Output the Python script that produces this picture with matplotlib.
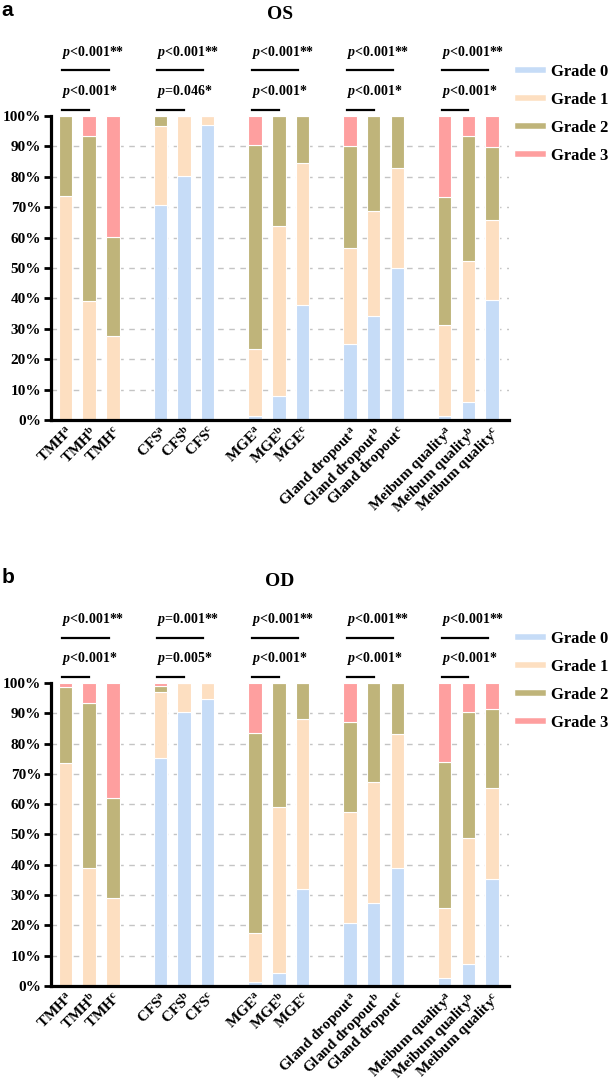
import matplotlib
matplotlib.use("Agg")
import matplotlib.pyplot as plt
from matplotlib.lines import Line2D
import numpy as np

plt.rcParams['font.family'] = 'Liberation Serif'
plt.rcParams['font.weight'] = 'bold'
plt.rcParams['mathtext.fontset'] = 'custom'
plt.rcParams['mathtext.rm'] = 'Liberation Serif'
plt.rcParams['mathtext.it'] = 'Liberation Serif:italic:bold'
plt.rcParams['mathtext.bf'] = 'Liberation Serif:bold'

# categories
groups = ["TMH", "CFS", "MGE", "Gland dropout", "Meibum quality"]
subs = ["a", "b", "c"]
grades = ["Grade 0", "Grade 1", "Grade 2", "Grade 3"]
colors = ["#c6dcf7", "#fddfc1", "#bfb47a", "#fe9f9f"]

# OS (panel a), % per grade, order: TMH a-c, CFS a-c, MGE a-c, Gland a-c, Meibum a-c
os_g0 = [0, 0, 0, 70.7, 80.4, 96.9, 1.3, 7.8, 37.7, 25.0, 34.3, 50.0, 1.3, 6.0, 39.6]
os_g1 = [73.8, 39.0, 27.5, 26.1, 19.6, 3.1, 22.0, 55.9, 46.9, 31.7, 34.5, 32.9, 30.0, 46.2, 26.1]
os_g2 = [26.2, 54.4, 32.8, 3.2, 0, 0, 67.0, 36.3, 15.4, 33.4, 31.2, 17.1, 42.0, 41.2, 24.1]
os_g3 = [0, 6.6, 39.7, 0, 0, 0, 9.7, 0, 0, 9.9, 0, 0, 26.7, 6.6, 10.2]

# OD (panel b)
od_g0 = [0, 0, 0, 75.4, 90.4, 94.8, 1.2, 4.2, 32.0, 20.8, 27.3, 39.1, 2.7, 7.3, 35.3]
od_g1 = [73.5, 39.0, 29.0, 21.6, 9.6, 5.2, 16.2, 54.9, 56.0, 36.7, 40.1, 44.0, 23.0, 41.6, 30.2]
od_g2 = [25.2, 54.5, 33.2, 1.9, 0, 0, 66.2, 40.9, 12.0, 29.6, 32.6, 16.9, 48.3, 41.5, 26.0]
od_g3 = [1.3, 6.5, 37.8, 1.1, 0, 0, 16.4, 0, 0, 12.9, 0, 0, 26.0, 9.6, 8.5]

# p values per group: (overall, pairwise)
os_p = [("<0.001**", "<0.001*"), ("<0.001**", "=0.046*"), ("<0.001**", "<0.001*"),
        ("<0.001**", "<0.001*"), ("<0.001**", "<0.001*")]
od_p = [("<0.001**", "<0.001*"), ("=0.001**", "=0.005*"), ("<0.001**", "<0.001*"),
        ("<0.001**", "<0.001*"), ("<0.001**", "<0.001*")]

fig = plt.figure(figsize=(6.13, 10.81), dpi=100)

xpos = []
labels = []
for gi, g in enumerate(groups):
    for si, s in enumerate(subs):
        xpos.append(gi * 4 + si)
        labels.append(g + r"$^{\mathrm{" + s + "}}$")
xpos = np.array(xpos)


def draw_panel(rect, data, pvals, title, letter, letter_y):
    ax = fig.add_axes(rect)
    for v in range(10, 100, 10):
        ax.axhline(v, color="#c4c4c4", lw=1.0, ls=(0, (4, 4)), zorder=0)
    bottom = np.zeros(len(xpos))
    for vals, c in zip(data, colors):
        vals = np.array(vals)
        ax.bar(xpos, vals, bottom=bottom, width=0.57, color=c,
               edgecolor="white", linewidth=0.8, zorder=2)
        bottom += vals
    ax.set_xlim(-0.61, 18.71)
    ax.set_ylim(0, 100)
    ax.set_yticks(range(0, 101, 10))
    ax.set_yticklabels([f"{v}%" for v in range(0, 101, 10)], fontsize=11, fontweight="bold")
    ax.set_xticks(xpos)
    ax.set_xticklabels(labels, rotation=45, ha="right", rotation_mode="anchor",
                       fontsize=11, fontweight="bold")
    ax.tick_params(axis="x", length=0, pad=3)
    ax.tick_params(axis="y", length=5, width=2, pad=2)
    for sp in ["top", "right"]:
        ax.spines[sp].set_visible(False)
    for sp in ["left", "bottom"]:
        ax.spines[sp].set_linewidth(2.3)

    for gi, (p1, p2) in enumerate(pvals):
        g0 = gi * 4
        ax.plot([g0 - 0.13, g0 + 1.82], [115, 115], color="black", lw=1.6, clip_on=False)
        ax.plot([g0 - 0.13, g0 + 1.0], [102, 102], color="black", lw=1.6, clip_on=False)
        ax.text(g0 - 0.13, 121, "$p$" + p1, fontsize=10, fontweight="bold",
                ha="left", va="center", clip_on=False)
        ax.text(g0 - 0.13, 108, "$p$" + p2, fontsize=10, fontweight="bold",
                ha="left", va="center", clip_on=False)

    ax.set_title(title, fontsize=14, fontweight="bold", pad=0, y=1.32)
    fig.text(0.003, letter_y, letter, fontsize=15, fontweight="bold",
             family="Liberation Sans", ha="left", va="center")

    handles = [Line2D([0], [0], color=c, lw=4) for c in colors]
    ax.legend(handles, grades, loc="upper left", bbox_to_anchor=(1.02, 1.172),
              frameon=False, borderpad=0, borderaxespad=0, handlelength=1.5,
              handletextpad=0.45, labelspacing=0.72,
              prop={"family": "Liberation Serif", "weight": "bold", "size": 12})
    return ax


draw_panel([0.0832, 0.6115, 0.747, 0.2812], [os_g0, os_g1, os_g2, os_g3], os_p,
           "OS", "a", 0.990)
draw_panel([0.0832, 0.0879, 0.747, 0.2803], [od_g0, od_g1, od_g2, od_g3], od_p,
           "OD", "b", 0.466)

fig.savefig("out.png", dpi=100)
